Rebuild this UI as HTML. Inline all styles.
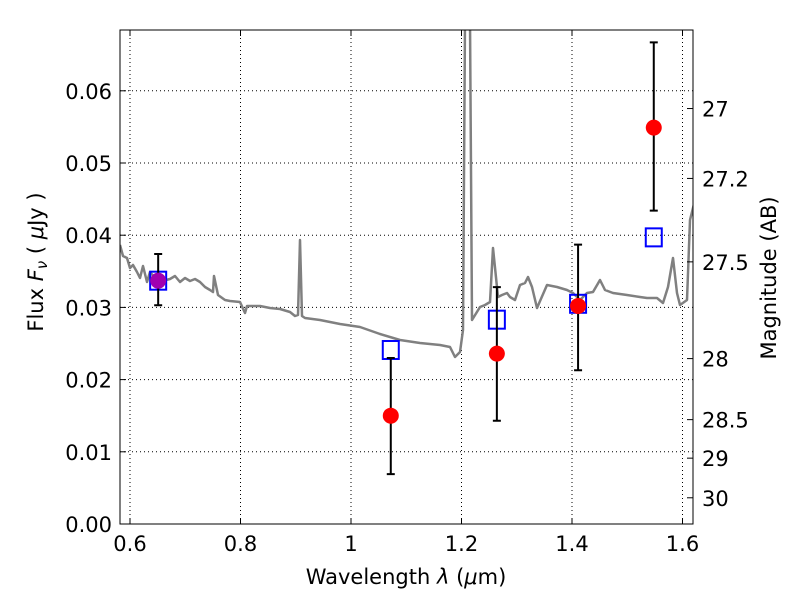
<!DOCTYPE html>
<html><head><meta charset="utf-8"><style>
body{margin:0;background:#fff}
text{font-family:"DejaVu Sans","Liberation Sans",sans-serif;font-size:21px;fill:#000}
</style></head><body>
<svg id="chart" width="800" height="600" xmlns="http://www.w3.org/2000/svg">
<rect width="800" height="600" fill="#fff"/>
<defs><clipPath id="clip"><rect x="120" y="30" width="573" height="494"/></clipPath></defs>
<g id="grid"></g>
<g id="spec" clip-path="url(#clip)"></g>
<g id="marks" clip-path="url(#clip)"></g>
<rect x="120" y="30" width="573" height="494" fill="none" stroke="#000" stroke-width="1"/>
<g id="axes"></g>
<text x="406" y="584" text-anchor="middle" font-size="22">Wavelength  <tspan font-style="italic">λ</tspan> (<tspan font-style="italic">μ</tspan>m)</text>
<text transform="translate(43,262) rotate(-90)" text-anchor="middle" font-size="22">Flux  <tspan font-style="italic">F</tspan><tspan font-style="italic" font-size="15" dy="4">ν</tspan><tspan dy="-4">  ( </tspan><tspan font-style="italic">μ</tspan>Jy )</text>
<text transform="translate(776,278) rotate(-90)" text-anchor="middle" font-size="22">Magnitude (AB)</text>
</svg>
<script>
const xTicks=[0.6,0.8,1.0,1.2,1.4,1.6];
const xTickLabels=["0.6","0.8","1","1.2","1.4","1.6"];
const yTicks=[0,0.01,0.02,0.03,0.04,0.05,0.06];
const yTickLabels=["0.00","0.01","0.02","0.03","0.04","0.05","0.06"];
const magTicks=[27,27.2,27.5,28,28.5,29,30];
const magTickLabels=["27","27.2","27.5","28","28.5","29","30"];
const specWave=[0.5819,0.5873,0.5946,0.6,0.6054,0.6127,0.6181,0.6235,0.6308,0.6362,0.6452,0.6543,0.6652,0.6724,0.6814,0.6905,0.6995,0.7086,0.7176,0.7267,0.7357,0.7448,0.7502,0.752,0.7593,0.7719,0.781,0.7991,0.8081,0.8118,0.8353,0.8534,0.8715,0.8896,0.8986,0.9041,0.9077,0.9113,0.9167,0.9439,0.9801,1.0163,1.0525,1.0887,1.1249,1.1611,1.1792,1.1882,1.1973,1.2027,1.2063,1.2154,1.219,1.2335,1.2425,1.2516,1.257,1.2661,1.2733,1.2824,1.2878,1.2968,1.3059,1.3149,1.3204,1.3276,1.3367,1.3548,1.3729,1.391,1.4018,1.4145,1.4271,1.438,1.4507,1.4597,1.4742,1.4995,1.5231,1.5357,1.5538,1.5647,1.5738,1.5828,1.59,1.5955,1.6081,1.6136,1.6226];
const specFlux=[0.03864,0.03712,0.03684,0.03546,0.03587,0.0349,0.03407,0.03573,0.03352,0.0349,0.03407,0.0331,0.0338,0.03393,0.03435,0.03352,0.03407,0.03366,0.03393,0.03352,0.03283,0.03241,0.03213,0.03435,0.03172,0.03102,0.03089,0.03075,0.02922,0.03019,0.03019,0.02992,0.02978,0.02936,0.02881,0.02895,0.03934,0.02881,0.02853,0.02825,0.0277,0.02729,0.02632,0.02548,0.02507,0.02479,0.02452,0.02313,0.02382,0.02687,0.0698,0.0698,0.02825,0.03006,0.03033,0.03075,0.03823,0.03144,0.03172,0.03199,0.03144,0.03102,0.0331,0.03338,0.03421,0.03283,0.02992,0.0331,0.03283,0.03241,0.03199,0.03102,0.03199,0.03213,0.0338,0.03241,0.03199,0.03172,0.03144,0.0313,0.0313,0.03061,0.03283,0.03684,0.03199,0.03033,0.03102,0.04211,0.04488];
const obsWave=[0.651,1.072,1.264,1.411,1.548];
const obsFlux=[0.0337,0.0150,0.0236,0.0302,0.0549];
const obsErrHi=[0.0374,0.0230,0.0328,0.0387,0.0667];
const obsErrLo=[0.0303,0.0069,0.0143,0.0213,0.0434];
const modelFlux=[0.0337,0.0241,0.0283,0.0305,0.0397];
const X=v=>130+(v-0.6)*552.5;
const Y=v=>524-v*7220;
const magToFlux=m=>Math.pow(10,(23.9-m)/2.5);
const NS="http://www.w3.org/2000/svg";
function mk(tag,attrs,parent){const e=document.createElementNS(NS,tag);for(const k in attrs)e.setAttribute(k,attrs[k]);document.getElementById(parent).appendChild(e);return e;}
xTicks.forEach((t,i)=>{
 const g=mk('line',{x1:X(t),x2:X(t),y1:30,y2:524,stroke:'#000','stroke-dasharray':'1,3','stroke-width':1},'grid');
 
 
 const a=mk('line',{x1:X(t),x2:X(t),y1:524,y2:518,stroke:'#000'},'axes');
 
 
 const b=mk('line',{x1:X(t),x2:X(t),y1:30,y2:36,stroke:'#000'},'axes');
 
 
 const tx=mk('text',{x:X(t),y:551,'text-anchor':'middle'},'axes');tx.textContent=xTickLabels[i];
 
 
});
yTicks.forEach((t,i)=>{
 const g=mk('line',{x1:120,x2:693,y1:Y(t),y2:Y(t),stroke:'#000','stroke-dasharray':'1,3','stroke-width':1},'grid');
 
 
 const a=mk('line',{x1:120,x2:126,y1:Y(t),y2:Y(t),stroke:'#000'},'axes');
 
 
 const tx=mk('text',{x:112,y:Y(t)+8,'text-anchor':'end'},'axes');tx.textContent=yTickLabels[i];
 
 
});
magTicks.forEach((m,i)=>{
 const y=Y(magToFlux(m));
 const a=mk('line',{x1:687,x2:693,y1:y,y2:y,stroke:'#000'},'axes');
 
 
 const tx=mk('text',{x:702,y:y+8,'text-anchor':'start'},'axes');tx.textContent=magTickLabels[i];
 
 
});
const pts=specWave.map((w,i)=>X(w).toFixed(1)+','+Y(specFlux[i]).toFixed(1)).join(' ');
const sp=mk('polyline',{points:pts,fill:'none',stroke:'#808080','stroke-width':2.5,'stroke-linejoin':'round'},'spec');


obsWave.forEach((w,i)=>{
 const x=X(w);
 const sq=mk('rect',{x:x-8,y:Y(modelFlux[i])-9,width:16,height:18,fill:'none',stroke:'#0000ff','stroke-width':2},'marks');
 
 
 const e=mk('path',{d:`M${x},${Y(obsErrHi[i])}V${Y(obsErrLo[i])}M${x-4},${Y(obsErrHi[i])}h8M${x-4},${Y(obsErrLo[i])}h8`,stroke:'#000','stroke-width':2,fill:'none'},'marks');
 
 
 const c=mk('circle',{cx:x,cy:Y(obsFlux[i]),r:8,fill:i===0?'#a000b0':'#ff0000'},'marks');
 
 
});
</script>
</body></html>
